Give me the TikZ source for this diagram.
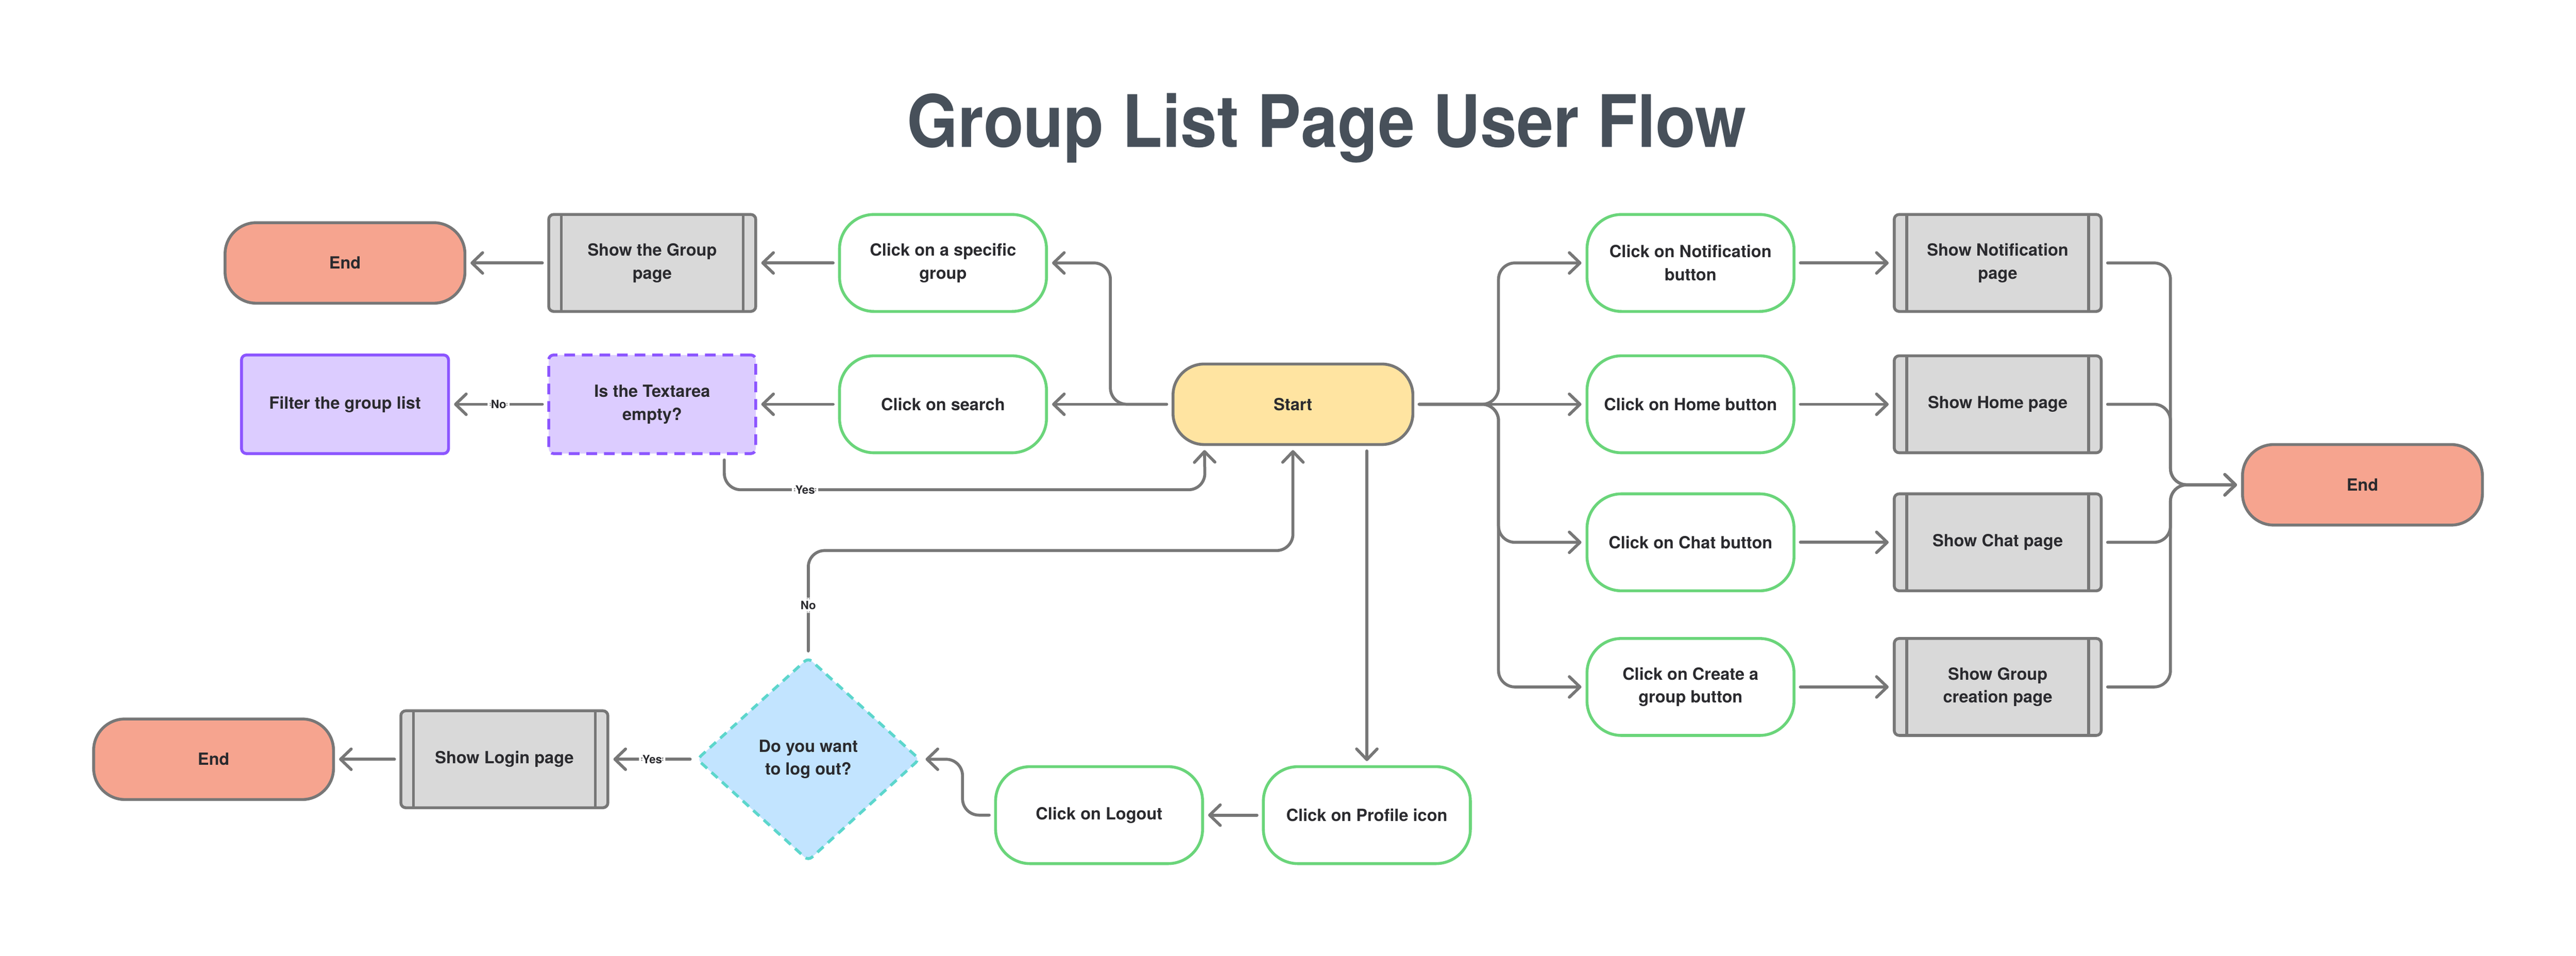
\documentclass[tikz,border=0pt]{standalone}
\usepackage{fontspec}
\usepackage{graphicx}
\setmainfont{TeX Gyre Heros}
\usetikzlibrary{arrows.meta,shapes.geometric,calc}
\definecolor{lineg}{HTML}{777777}
\definecolor{startfill}{HTML}{FFE4A1}
\definecolor{endfill}{HTML}{F6A48F}
\definecolor{grayfill}{HTML}{D9D9D9}
\definecolor{greenb}{HTML}{6AD57A}
\definecolor{purplefill}{HTML}{DCCCFF}
\definecolor{purpleb}{HTML}{8C55FF}
\definecolor{diafill}{HTML}{C2E4FF}
\definecolor{cyanb}{HTML}{5CD6CC}
\definecolor{textc}{HTML}{2A2A2E}
\definecolor{titlec}{HTML}{47505A}
\tikzset{
  basebox/.style={align=center, text=textc, inner sep=2pt,
    font={\fontsize{10.2pt}{14pt}\selectfont\bfseries}, line width=1.75pt},
  term/.style={basebox, rectangle, rounded corners=19pt, minimum width=146pt,
    minimum height=49pt, draw=lineg},
  startbox/.style={term, fill=startfill},
  endbox/.style={term, fill=endfill},
  action/.style={basebox, rectangle, rounded corners=21pt, minimum width=126pt,
    minimum height=59pt, draw=greenb, fill=white},
  process/.style={basebox, rectangle, rounded corners=3pt, minimum width=126pt,
    minimum height=59pt, draw=lineg, fill=grayfill,
    path picture={
      \draw[line width=1.75pt, draw=lineg]
        ($(path picture bounding box.north west)+(7.6pt,0pt)$) --
        ($(path picture bounding box.south west)+(7.6pt,0pt)$);
      \draw[line width=1.75pt, draw=lineg]
        ($(path picture bounding box.north east)+(-7.6pt,0pt)$) --
        ($(path picture bounding box.south east)+(-7.6pt,0pt)$);
    }},
  question/.style={basebox, rectangle, rounded corners=3pt, minimum width=126pt,
    minimum height=60pt, draw=purpleb, fill=purplefill, dash pattern=on 6.5pt off 4.2pt},
  filterbox/.style={basebox, rectangle, rounded corners=3pt, minimum width=126pt,
    minimum height=60pt, draw=purpleb, fill=purplefill},
  decision/.style={basebox, diamond, minimum width=136pt, minimum height=124pt,
    draw=cyanb, fill=diafill, rounded corners=3pt, dash pattern=on 5pt off 3.6pt},
  conn/.style={draw=lineg, line width=1.8pt, line cap=round, rounded corners=10pt,
    shorten >=2.5pt, shorten <=3pt,
    -{Straight Barb[length=6.5pt,width=12.5pt,round]}},
  lbl/.style={fill=white, text=textc, inner sep=2pt,
    font={\fontsize{7pt}{8pt}\selectfont\bfseries}}
}
\begin{document}
\begin{tikzpicture}[x=1pt,y=-1pt]
\useasboundingbox (0,0) rectangle (1568,581.67);

\node[text=titlec, anchor=base, font={\fontsize{40pt}{44pt}\selectfont\bfseries}] (title) at (807.5,89.6) {\scalebox{1}[1.1]{Group List Page User Flow}};

% left part
\node[endbox] (end1) at (210,160) {End};
\node[process] (grouppage) at (397,160) {Show the Group\\page};
\node[action] (specific) at (574,160) {Click on a specific\\group};
\node[filterbox] (filter) at (210,246) {Filter the group list};
\node[question] (textarea) at (397,246) {Is the Textarea\\empty?};
\node[action] (search) at (574,246) {Click on search};
\node[startbox] (start) at (787,246) {Start};

% right part
\node[action] (notif) at (1029,160) {Click on Notification\\button};
\node[process] (shownotif) at (1216,160) {Show Notification\\page};
\node[action] (home) at (1029,246) {Click on Home button};
\node[process] (showhome) at (1216,246) {Show Home page};
\node[action] (chat) at (1029,330) {Click on Chat button};
\node[process] (showchat) at (1216,330) {Show Chat page};
\node[action] (create) at (1029,418) {Click on Create a\\group button};
\node[process] (showcreate) at (1216,418) {Show Group\\creation page};
\node[endbox] (end3) at (1438,295) {End};

% bottom part
\node[action] (profile) at (832,496) {Click on Profile icon};
\node[action] (logout) at (669,496) {Click on Logout};
\node[decision] (logq) at (492,462) {Do you want\\to log out?};
\node[process] (login) at (307,462) {Show Login page};
\node[endbox] (end2) at (130,462) {End};

\coordinate (yesbend) at (733.5,298);
\coordinate (nobend) at (787,335);

% connectors left
\draw[conn] (start.west) -- (search.east);
\draw[conn] (start.west) -| ([xshift=38pt]specific.east) -- (specific.east);
\draw[conn] (specific.west) -- (grouppage.east);
\draw[conn] (grouppage.west) -- (end1.east);
\draw[conn] (search.west) -- (textarea.east);
\draw[conn] (textarea.west) -- node[lbl] {No} (filter.east);
\draw[conn] ([xshift=-20pt]textarea.south east) |- node[lbl, pos=0.584] {Yes} (yesbend) -- ([xshift=20pt]start.south west);

% connectors right
\draw[conn] (start.east) -| ([xshift=-53pt]notif.west) -- (notif.west);
\draw[conn] (start.east) -- (home.west);
\draw[conn] (start.east) -| ([xshift=-53pt]chat.west) -- (chat.west);
\draw[conn] (start.east) -| ([xshift=-53pt]create.west) -- (create.west);
\draw[conn] (notif.east) -- (shownotif.west);
\draw[conn] (home.east) -- (showhome.west);
\draw[conn] (chat.east) -- (showchat.west);
\draw[conn] (create.east) -- (showcreate.west);
\draw[conn] (shownotif.east) -| ([xshift=-43pt]end3.west) -- (end3.west);
\draw[conn] (showhome.east) -| ([xshift=-43pt]end3.west) -- (end3.west);
\draw[conn] (showchat.east) -| ([xshift=-43pt]end3.west) -- (end3.west);
\draw[conn] (showcreate.east) -| ([xshift=-43pt]end3.west) -- (end3.west);

% connectors bottom
\draw[conn] ([xshift=45pt]start.south) -- (profile.north);
\draw[conn] (profile.west) -- (logout.east);
\draw[conn] (logout.west) -| ([xshift=25pt]logq.east) -- (logq.east);
\draw[conn] (logq.north) |- node[lbl, pos=0.24] {No} (nobend) -- (start.south);
\draw[conn] (logq.west) -- node[lbl] {Yes} (login.east);
\draw[conn] (login.west) -- (end2.east);
\end{tikzpicture}
\end{document}
